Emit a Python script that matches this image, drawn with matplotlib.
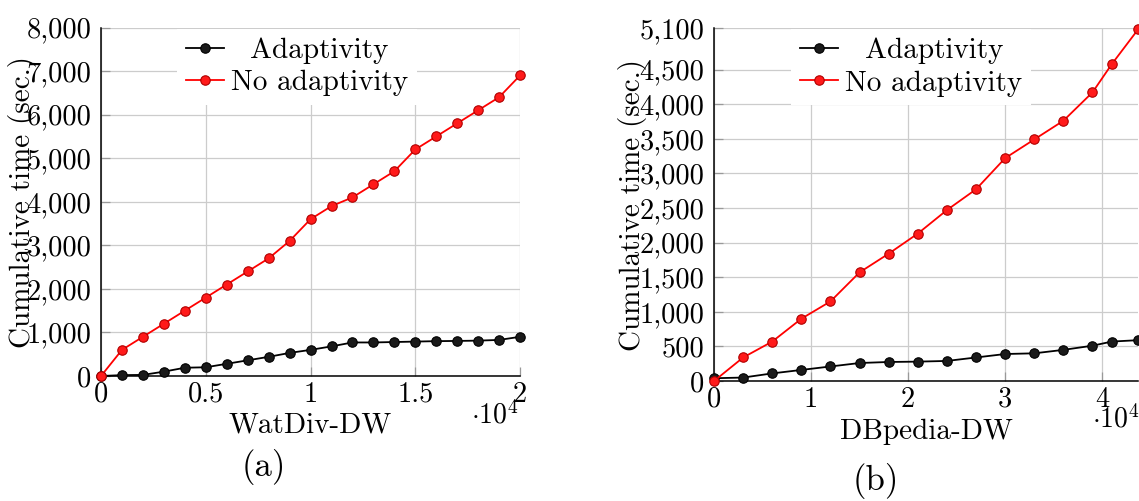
import matplotlib
matplotlib.use("Agg")
import matplotlib.pyplot as plt
from matplotlib.ticker import FuncFormatter, FixedLocator

plt.rcParams['font.family'] = ['cmr10']
plt.rcParams['mathtext.fontset'] = 'cm'
plt.rcParams['axes.formatter.use_mathtext'] = True

# WatDiv-DW (a)
watdiv_queries = [0, 1000, 2000, 3000, 4000, 5000, 6000, 7000, 8000, 9000, 10000,
                  11000, 12000, 13000, 14000, 15000, 16000, 17000, 18000, 19000, 20000]
watdiv_adapt = [0, 20, 25, 100, 190, 200, 280, 360, 440, 530, 600,
                680, 770, 770, 780, 790, 800, 805, 812, 828, 900]
watdiv_noadapt = [0, 600, 900, 1200, 1500, 1800, 2100, 2400, 2700, 3100, 3600,
                  3900, 4100, 4400, 4700, 5200, 5500, 5800, 6100, 6400, 6900]

# DBpedia-DW (b)
dbpedia_queries = [0, 3000, 6000, 9000, 12000, 15000, 18000, 21000, 24000, 27000,
                   30000, 33000, 36000, 39000, 41000, 43700]
dbpedia_adapt = [40, 50, 110, 160, 210, 260, 275, 280, 290, 340,
                 390, 400, 450, 510, 570, 590]
dbpedia_noadapt = [0, 340, 570, 900, 1150, 1570, 1840, 2130, 2470, 2770,
                   3220, 3490, 3760, 4170, 4580, 5080]

fs = 21
tfs = 20.5
fig = plt.figure(figsize=(11.39, 5.01), dpi=100)
ax1 = fig.add_axes([0.0887, 0.2495, 0.3679, 0.6956])
ax2 = fig.add_axes([0.6269, 0.2395, 0.3723, 0.7046])

def style(ax, xs, adapt, noadapt, xlim, xticks, yticks, ylim, leg_x, ylab_x):
    x = [q / 1e4 for q in xs]
    ax.plot(x, adapt, color='black', lw=1.3, marker='o', ms=6.8,
            mfc='#1a1a1a', mec='black', mew=0.8, clip_on=False, zorder=3,
            label='Adaptivity')
    ax.plot(x, noadapt, color='#ff0000', lw=1.3, marker='o', ms=6.8,
            mfc='#ff1a1a', mec='#b00000', mew=0.8, clip_on=False, zorder=3,
            label='No adaptivity')
    ax.set_xlim(*xlim)
    ax.set_ylim(*ylim)
    ax.xaxis.set_major_locator(FixedLocator(xticks))
    ax.yaxis.set_major_locator(FixedLocator(yticks))
    ax.xaxis.set_major_formatter(FuncFormatter(lambda v, p: f"{v:g}"))
    ax.yaxis.set_major_formatter(FuncFormatter(lambda v, p: f"{int(v):,}"))
    ax.grid(True, color='#cccccc', lw=0.9)
    ax.set_axisbelow(True)
    for s in ['top', 'right']:
        ax.spines[s].set_visible(False)
    for s in ['left', 'bottom']:
        ax.spines[s].set_linewidth(1.1)
    ax.tick_params(labelsize=tfs, direction='in', length=6.5, color='#999999',
                   width=0.9)
    ax.tick_params(axis='y', pad=7)
    ax.tick_params(axis='x', pad=4)
    ax.set_ylabel('Cumulative time (sec.)', fontsize=fs)
    ax.yaxis.set_label_coords(ylab_x, 0.5)
    leg = ax.legend(loc='upper left', bbox_to_anchor=(leg_x, 0.997),
                    borderaxespad=0, fontsize=fs, frameon=True, fancybox=False,
                    handlelength=1.3, handletextpad=0.25, labelspacing=0.2,
                    borderpad=0.3)
    leg.get_frame().set_edgecolor('none')
    leg.get_frame().set_facecolor('white')
    leg.get_frame().set_alpha(1)
    return leg

leg1 = style(ax1, watdiv_queries, watdiv_adapt, watdiv_noadapt, (0, 2),
             [0, 0.5, 1, 1.5, 2], list(range(0, 8001, 1000)), (0, 8000),
             0.181, -0.153)
leg2 = style(ax2, dbpedia_queries, dbpedia_adapt, dbpedia_noadapt, (0, 4.37),
             [0, 1, 2, 3, 4], list(range(0, 4501, 500)) + [5100], (0, 5100),
             0.182, -0.158)

ax1.set_xlabel('WatDiv-DW', fontsize=fs, labelpad=3)
ax2.set_xlabel('DBpedia-DW', fontsize=fs, labelpad=4)

ax1.text(495 / 1139, 1 - 415 / 501, r'$\cdot 10^4$', transform=fig.transFigure,
         fontsize=20, ha='center', va='center')
ax2.text(1116 / 1139, 1 - 419 / 501, r'$\cdot 10^4$', transform=fig.transFigure,
         fontsize=20, ha='center', va='center')
fig.text(264 / 1139, 1 - 467 / 501, '(a)', fontsize=25, ha='center', va='center')
fig.text(876 / 1139, 1 - 481 / 501, '(b)', fontsize=25, ha='center', va='center')

# center the legend texts like pgfplots does
fig.canvas.draw()
for leg in (leg1, leg2):
    texts = leg.get_texts()
    widths = [t.get_window_extent().width for t in texts]
    wmax = max(widths)
    for t, w in zip(texts, widths):
        t.set_x((wmax - w) / 2)

fig.savefig('out.png', dpi=100)
